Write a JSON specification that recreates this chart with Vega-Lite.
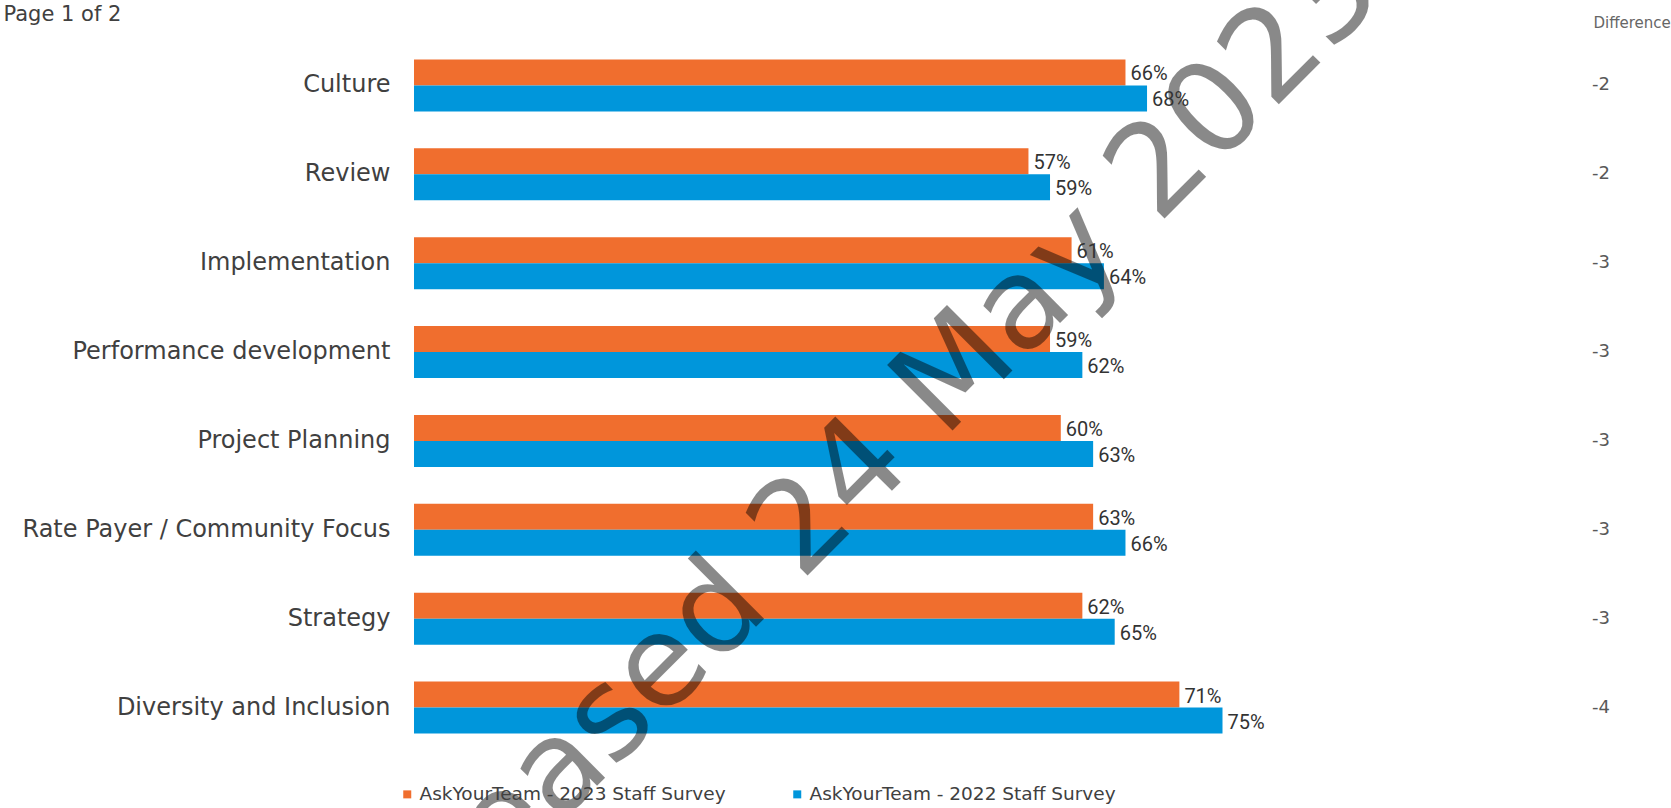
{
  "$schema": "https://vega.github.io/schema/vega-lite/v6.json",
  "autosize": {"type": "none"},
  "padding": {"left": 414, "top": 41, "right": 179, "bottom": 56},
  "width": 1078,
  "height": 711,
  "background": "white",
  "datasets": {
    "scores": [
      {"category": "Culture", "survey": "AskYourTeam - 2023 Staff Survey", "value": 0.66},
      {"category": "Culture", "survey": "AskYourTeam - 2022 Staff Survey", "value": 0.68},
      {"category": "Review", "survey": "AskYourTeam - 2023 Staff Survey", "value": 0.57},
      {"category": "Review", "survey": "AskYourTeam - 2022 Staff Survey", "value": 0.59},
      {"category": "Implementation", "survey": "AskYourTeam - 2023 Staff Survey", "value": 0.61},
      {"category": "Implementation", "survey": "AskYourTeam - 2022 Staff Survey", "value": 0.64},
      {"category": "Performance development", "survey": "AskYourTeam - 2023 Staff Survey", "value": 0.59},
      {"category": "Performance development", "survey": "AskYourTeam - 2022 Staff Survey", "value": 0.62},
      {"category": "Project Planning", "survey": "AskYourTeam - 2023 Staff Survey", "value": 0.60},
      {"category": "Project Planning", "survey": "AskYourTeam - 2022 Staff Survey", "value": 0.63},
      {"category": "Rate Payer / Community Focus", "survey": "AskYourTeam - 2023 Staff Survey", "value": 0.63},
      {"category": "Rate Payer / Community Focus", "survey": "AskYourTeam - 2022 Staff Survey", "value": 0.66},
      {"category": "Strategy", "survey": "AskYourTeam - 2023 Staff Survey", "value": 0.62},
      {"category": "Strategy", "survey": "AskYourTeam - 2022 Staff Survey", "value": 0.65},
      {"category": "Diversity and Inclusion", "survey": "AskYourTeam - 2023 Staff Survey", "value": 0.71},
      {"category": "Diversity and Inclusion", "survey": "AskYourTeam - 2022 Staff Survey", "value": 0.75}
    ],
    "diffs": [
      {"category": "Culture", "diff": "-2"},
      {"category": "Review", "diff": "-2"},
      {"category": "Implementation", "diff": "-3"},
      {"category": "Performance development", "diff": "-3"},
      {"category": "Project Planning", "diff": "-3"},
      {"category": "Rate Payer / Community Focus", "diff": "-3"},
      {"category": "Strategy", "diff": "-3"},
      {"category": "Diversity and Inclusion", "diff": "-4"}
    ],
    "watermark": [{"t": "Released 24 May 2023"}],
    "header": [{"t": "Difference"}]
  },
  "encoding": {
    "y": {
      "field": "category",
      "type": "nominal",
      "sort": null,
      "scale": {"paddingInner": 0.415, "paddingOuter": 0.2075},
      "axis": {
        "title": "Page 1 of 2",
        "titleAngle": 0,
        "titleX": -411,
        "titleY": -21,
        "titleAlign": "left",
        "titleBaseline": "alphabetic",
        "titleFont": "DejaVu Sans",
        "titleFontSize": 21,
        "titleFontWeight": "normal",
        "titleColor": "#404040",
        "domain": false,
        "ticks": false,
        "labelPadding": 24,
        "labelFont": "DejaVu Sans",
        "labelFontSize": 24,
        "labelColor": "#404040",
        "labelLimit": 600
      }
    }
  },
  "layer": [
    {
      "data": {"name": "scores"},
      "mark": {"type": "bar"},
      "encoding": {
        "x": {"field": "value", "type": "quantitative", "scale": {"domain": [0, 1], "nice": false}, "axis": null},
        "yOffset": {"field": "survey", "type": "nominal", "sort": ["AskYourTeam - 2023 Staff Survey", "AskYourTeam - 2022 Staff Survey"], "scale": {"paddingInner": 0, "paddingOuter": 0}},
        "color": {
          "field": "survey",
          "type": "nominal",
          "sort": ["AskYourTeam - 2023 Staff Survey", "AskYourTeam - 2022 Staff Survey"],
          "scale": {"domain": ["AskYourTeam - 2023 Staff Survey", "AskYourTeam - 2022 Staff Survey"], "range": ["#F06E2E", "#0096DB"]},
          "legend": {
            "title": null,
            "orient": "none",
            "legendX": -16,
            "legendY": 744,
            "direction": "horizontal",
            "symbolType": "square",
            "symbolSize": 64,
            "symbolStrokeWidth": 0,
            "labelFont": "DejaVu Sans",
            "labelFontSize": 18.5,
            "labelColor": "#404040",
            "labelOffset": 3,
            "columnPadding": 62,
            "labelLimit": 500
          }
        }
      }
    },
    {
      "data": {"name": "watermark"},
      "mark": {"type": "text", "angle": -45, "align": "center", "baseline": "middle", "dx": -50, "dy": 6, "font": "DejaVu Sans", "fontSize": 127, "color": "#000000", "opacity": 0.46},
      "encoding": {
        "x": {"datum": 0.432, "type": "quantitative"},
        "y": {"datum": "Project Planning"},
        "text": {"field": "t"}
      }
    },
    {
      "data": {"name": "scores"},
      "mark": {"type": "text", "align": "left", "baseline": "middle", "dx": 5, "dy": 2, "font": "Roboto", "fontSize": 20, "color": "#333333"},
      "encoding": {
        "x": {"field": "value", "type": "quantitative"},
        "yOffset": {"field": "survey", "type": "nominal", "sort": ["AskYourTeam - 2023 Staff Survey", "AskYourTeam - 2022 Staff Survey"]},
        "text": {"field": "value", "type": "quantitative", "format": ".0%"}
      }
    },
    {
      "data": {"name": "diffs"},
      "mark": {"type": "text", "align": "center", "baseline": "middle", "font": "DejaVu Sans", "fontSize": 18, "color": "#595959"},
      "encoding": {
        "x": {"datum": 1.101, "type": "quantitative"},
        "text": {"field": "diff", "type": "nominal"}
      }
    },
    {
      "data": {"name": "header"},
      "mark": {"type": "text", "align": "center", "baseline": "middle", "dy": -62, "font": "DejaVu Sans", "fontSize": 15, "color": "#666666"},
      "encoding": {
        "x": {"datum": 1.13, "type": "quantitative"},
        "y": {"datum": "Culture"},
        "text": {"field": "t"}
      }
    }
  ],
  "config": {"view": {"stroke": null}}
}
